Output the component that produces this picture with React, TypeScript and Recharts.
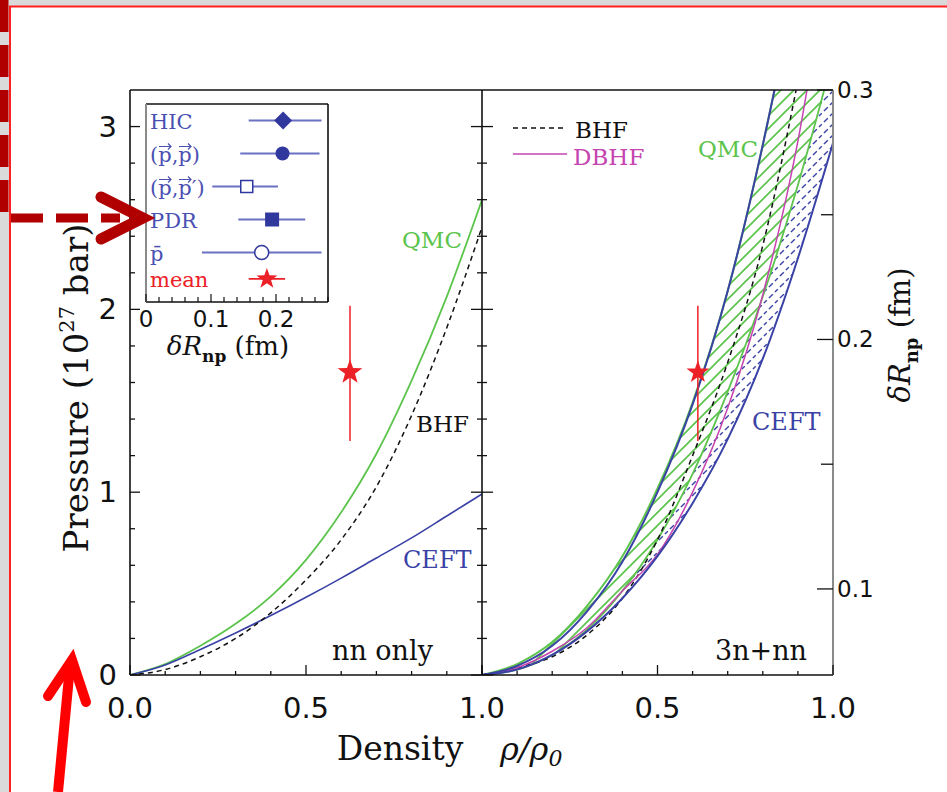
import React from "react";
import {
  Area,
  ComposedChart,
  ErrorBar,
  Line,
  ReferenceArea,
  Scatter,
  XAxis,
  YAxis
} from "recharts";

const W = 947;
const H = 792;

const SERIF = "'DejaVu Serif', serif";
const SANS = "'DejaVu Sans', sans-serif";
const BLUE = "#3a42a6";
const GREEN = "#5cc44c";
const MAGENTA = "#c544b0";
const RED = "#ec2027";
const PROBE_LINE = "#6a71c2";
const PROBE_MARK = "#30389e";
const PROBE_TEXT = "#4a50b2";

// density rho/rho0 sampling
const density = [0, 0.1, 0.2, 0.3, 0.4, 0.5, 0.6, 0.7, 0.8, 0.9, 1.0];
const densityTicks = [0, 0.1, 0.2, 0.3, 0.4, 0.5, 0.6, 0.7, 0.8, 0.9, 1.0];
const pressureTicks = [0, 0.2, 0.4, 0.6, 0.8, 1, 1.2, 1.4, 1.6, 1.8, 2, 2.2, 2.4, 2.6, 2.8, 3];
const dRTicks = [0.1, 0.15, 0.2, 0.25, 0.3];

// left panel: nn only (pressure, 10^27 bar)
const nnQmc = [0, 0.06, 0.16, 0.28, 0.43, 0.63, 0.89, 1.21, 1.61, 2.07, 2.6];
const nnBhf = [0, 0.03, 0.1, 0.2, 0.34, 0.52, 0.74, 1.03, 1.42, 1.9, 2.45];
const nnCeft = [0, 0.055, 0.14, 0.23, 0.325, 0.425, 0.53, 0.64, 0.75, 0.87, 0.99];

// right panel: 3n+nn
const ceftUpper = [0, 0.05, 0.16, 0.35, 0.62, 1.0, 1.48, 2.1, 2.9, 3.85, 4.95];
const ceftLower = [0, 0.03, 0.11, 0.24, 0.42, 0.65, 0.94, 1.29, 1.73, 2.28, 2.91];
const qmcUpper = [0, 0.06, 0.18, 0.38, 0.65, 1.02, 1.49, 2.1, 2.9, 3.85, 4.95];
const qmcLower = [0, 0.03, 0.11, 0.25, 0.46, 0.74, 1.1, 1.55, 2.07, 2.68, 3.38];
const bhf3n = [0, 0.04, 0.1, 0.22, 0.42, 0.74, 1.2, 1.71, 2.35, 3.25, 4.3];
const dbhf3n = [0, 0.04, 0.13, 0.26, 0.46, 0.66, 1.0, 1.46, 2.08, 2.92, 4.1];

// mean constraint (star with error bar)
const meanDensity = [0.625, 0.615];
const meanPressure = 1.656;
const meanLow = 1.28;
const meanHigh = 2.02;

// inset: delta R_np (fm); vector arrows over p are drawn separately
const insetNames = ["HIC", "(p,p)", "(p,p\u2032)", "PDR", "p\u0304", "mean"];
const insetArrows = [false, true, true, false, false, false];
const insetRow = [0.5, 1.5, 2.5, 3.5, 4.5, 5.3];
const insetValue = [0.211, 0.21, 0.155, 0.194, 0.178, 0.186];
const insetLow = [0.158, 0.145, 0.102, 0.142, 0.086, 0.158];
const insetHigh = [0.27, 0.267, 0.203, 0.245, 0.27, 0.214];
const insetTicks = [0, 0.02, 0.04, 0.06, 0.08, 0.1, 0.12, 0.14, 0.16, 0.18, 0.2, 0.22, 0.24, 0.26, 0.28];

const nnData = density.map((x, i) => ({ x, qmc: nnQmc[i], bhf: nnBhf[i], ceft: nnCeft[i] }));
const fullData = density.map((x, i) => ({
  x,
  ceftBand: [ceftLower[i], ceftUpper[i]],
  qmcBand: [qmcLower[i], qmcUpper[i]],
  ceftUp: ceftUpper[i],
  ceftLo: ceftLower[i],
  qmcUp: qmcUpper[i],
  qmcLo: qmcLower[i],
  bhf: bhf3n[i],
  dbhf: dbhf3n[i]
}));
const meanErr = [meanPressure - meanLow, meanHigh - meanPressure];
const meanLeft = [{ x: meanDensity[0], p: meanPressure, err: meanErr }];
const meanRight = [{ x: meanDensity[1], p: meanPressure, err: meanErr }];
const probes = insetNames.map((name, i) => ({
  i,
  name,
  dr: insetValue[i],
  row: insetRow[i],
  xerr: [insetValue[i] - insetLow[i], insetHigh[i] - insetValue[i]]
}));
const probeData = probes.slice(0, 5);
const meanProbe = probes.slice(5);

const near = (a: number, b: number) => Math.abs(a - b) < 1e-6;
const isMult = (v: number, step: number) => Math.abs(v / step - Math.round(v / step)) < 1e-6;

function starPath(cx: number, cy: number, R: number) {
  let d = "";
  for (let k = 0; k < 10; k++) {
    const r = k % 2 === 0 ? R : R * 0.4;
    const a = -Math.PI / 2 + (k * Math.PI) / 5;
    d += (k ? "L" : "M") + (cx + r * Math.cos(a)).toFixed(2) + "," + (cy + r * Math.sin(a)).toFixed(2);
  }
  return d + "Z";
}

function densityTick(labels: number[]) {
  return (props: any) => {
    const { x, y, payload } = props;
    const v = payload.value;
    const major = isMult(v, 0.5);
    const show = labels.some((l) => near(l, v));
    return (
      <g>
        <line x1={x} x2={x} y1={y} y2={y - (major ? 10 : 4)} stroke="#111" strokeWidth={1.3} />
        {show && (
          <text x={x} y={y + 43} textAnchor="middle" fontFamily={SANS} fontSize={29} fill="#111">
            {v.toFixed(1)}
          </text>
        )}
      </g>
    );
  };
}

const pressureTick = (props: any) => {
  const { x, y, payload } = props;
  const v = payload.value;
  const major = isMult(v, 1);
  return (
    <g>
      <line x1={x} x2={x + (major ? 10 : 5)} y1={y} y2={y} stroke="#111" strokeWidth={1.3} />
      {major && (
        <text x={x - 13} y={y + 10} textAnchor="end" fontFamily={SANS} fontSize={29} fill="#111">
          {v}
        </text>
      )}
    </g>
  );
};

const innerTick = (props: any) => {
  const { x, y, payload } = props;
  const len = isMult(payload.value, 1) ? 11 : 5;
  return <line x1={x - len} x2={x + len} y1={y} y2={y} stroke="#111" strokeWidth={1.3} />;
};

const dRTick = (props: any) => {
  const { x, y, payload } = props;
  const v = payload.value;
  const major = isMult(v, 0.1);
  return (
    <g>
      <line x1={x - (major ? 16 : 12)} x2={x} y1={y} y2={y} stroke="#111" strokeWidth={1.3} />
      {major && (
        <text x={x + 4} y={y + 8} fontFamily={SANS} fontSize={23} fill="#111">
          {v.toFixed(1)}
        </text>
      )}
    </g>
  );
};

const insetBottomTick = (props: any) => {
  const { x, y, payload } = props;
  const v = payload.value;
  const major = isMult(v, 0.1);
  return (
    <g>
      <line x1={x} x2={x} y1={y} y2={y - (major ? 8 : 5)} stroke="#111" strokeWidth={1.2} />
      {major && (
        <text x={x} y={y + 25} textAnchor="middle" fontFamily={SANS} fontSize={23} fill="#111">
          {near(v, 0) ? "0" : v.toFixed(1)}
        </text>
      )}
    </g>
  );
};

const insetTopTick = (props: any) => {
  const { x, y, payload } = props;
  const major = isMult(payload.value, 0.1);
  return <line x1={x} x2={x} y1={y} y2={y + (major ? 8 : 5)} stroke="#111" strokeWidth={1.2} />;
};

const vecArrow = (cx: number, ay: number) =>
  `M${cx - 6},${ay}H${cx + 6}M${cx + 3},${ay - 3}L${cx + 6},${ay}L${cx + 3},${ay + 3}`;

const insetNameTick = (props: any) => {
  const { x, y, payload } = props;
  const i = insetRow.findIndex((r) => near(r, payload.value));
  const color = i === 5 ? RED : PROBE_TEXT;
  return (
    <g>
      <text x={x + 4} y={y + 8} fontFamily={SERIF} fontSize={21} fill={color}>
        {insetNames[i]}
      </text>
      {insetArrows[i] && (
        <path d={vecArrow(x + 19, y - 7) + vecArrow(x + 39, y - 7)} stroke={color} strokeWidth={1.2} fill="none" />
      )}
    </g>
  );
};

const probeShape = (props: any) => {
  const { cx, cy, payload } = props;
  switch (payload.i) {
    case 0:
      return <path d={`M${cx},${cy - 9}L${cx + 9},${cy}L${cx},${cy + 9}L${cx - 9},${cy}Z`} fill={PROBE_MARK} />;
    case 1:
      return <circle cx={cx} cy={cy} r={7} fill={PROBE_MARK} />;
    case 2:
      return <rect x={cx - 6} y={cy - 6} width={12} height={12} fill="#fff" stroke={PROBE_MARK} strokeWidth={1.5} />;
    case 3:
      return <rect x={cx - 7} y={cy - 7} width={14} height={14} fill={PROBE_MARK} />;
    default:
      return <circle cx={cx} cy={cy} r={7} fill="#fff" stroke={PROBE_MARK} strokeWidth={1.5} />;
  }
};

const frame = { stroke: "#111", strokeWidth: 1.6 };
const grayFrame = { stroke: "#8a8a8a", strokeWidth: 2 };
const abs: React.CSSProperties = { position: "absolute", left: 0, top: 0 };

// axes are given 1px of room (zero-size axes are not drawn), margins take the rest
function LeftPanel() {
  return (
    <div style={abs}>
      <ComposedChart width={W} height={H} data={nnData} margin={{ top: 89, left: 129, right: W - 482, bottom: H - 676 }}>
        <XAxis dataKey="x" type="number" domain={[0, 1]} ticks={densityTicks} interval={0} height={1}
          tickSize={0} tickMargin={0} tickLine={false} tick={densityTick([0, 0.5, 1])} axisLine={frame} allowDataOverflow />
        <XAxis xAxisId="top" orientation="top" type="number" domain={[0, 1]} height={1} tick={false} tickLine={false} axisLine={frame} />
        <YAxis type="number" domain={[0, 3.2]} ticks={pressureTicks} interval={0} width={1}
          tickSize={0} tickMargin={0} tickLine={false} tick={pressureTick} axisLine={frame} allowDataOverflow />
        <Line dataKey="qmc" type="monotone" stroke={GREEN} strokeWidth={1.8} dot={false} isAnimationActive={false} />
        <Line dataKey="ceft" type="monotone" stroke={BLUE} strokeWidth={1.6} dot={false} isAnimationActive={false} />
        <Line dataKey="bhf" type="monotone" stroke="#111" strokeWidth={1.5} strokeDasharray="5 4" dot={false} isAnimationActive={false} />
        <Scatter data={meanLeft} dataKey="p" isAnimationActive={false}
          shape={(p: any) => <path d={starPath(p.cx, p.cy, 13)} fill={RED} />}>
          <ErrorBar dataKey="err" direction="y" width={0} stroke={RED} strokeWidth={1.5} />
        </Scatter>
      </ComposedChart>
    </div>
  );
}

function RightPanel() {
  return (
    <div style={abs}>
      <ComposedChart width={W} height={H} data={fullData} margin={{ top: 89, left: 481, right: W - 834, bottom: H - 676 }}>
        <defs>
          <pattern id="qmcHatch" patternUnits="userSpaceOnUse" width={13} height={13}>
            <rect width={13} height={13} fill="#fff" />
            <path d="M-3,3 L3,-3 M0,13 L13,0 M10,16 L16,10" stroke={GREEN} strokeWidth={1.7} />
          </pattern>
          <pattern id="ceftHatch" patternUnits="userSpaceOnUse" width={11} height={11}>
            <rect width={11} height={11} fill="#fff" />
            <path d="M-2,2 L2,-2 M0,11 L11,0 M9,13 L13,9" stroke={BLUE} strokeWidth={1.4} strokeDasharray="4 3" />
          </pattern>
        </defs>
        <XAxis dataKey="x" type="number" domain={[0, 1]} ticks={densityTicks} interval={0} height={1}
          tickSize={0} tickMargin={0} tickLine={false} tick={densityTick([0.5, 1])} axisLine={frame} allowDataOverflow />
        <XAxis xAxisId="top" orientation="top" type="number" domain={[0, 1]} height={1} tick={false} tickLine={false} axisLine={frame} />
        <YAxis type="number" domain={[0, 3.2]} ticks={pressureTicks} interval={0} width={1}
          tickSize={0} tickMargin={0} tickLine={false} tick={innerTick} axisLine={frame} allowDataOverflow />
        <YAxis yAxisId="dr" orientation="right" type="number" domain={[0.0655, 0.3]} ticks={dRTicks} interval={0} width={1}
          tickSize={0} tickMargin={0} tickLine={false} tick={dRTick} axisLine={grayFrame} allowDataOverflow />
        <Area dataKey="ceftBand" type="monotone" stroke="none" fill="url(#ceftHatch)" fillOpacity={1} isAnimationActive={false} />
        <Area dataKey="qmcBand" type="monotone" stroke="none" fill="url(#qmcHatch)" fillOpacity={1} isAnimationActive={false} />
        <Line dataKey="qmcUp" type="monotone" stroke={GREEN} strokeWidth={2} dot={false} isAnimationActive={false} />
        <Line dataKey="qmcLo" type="monotone" stroke={GREEN} strokeWidth={1.8} dot={false} isAnimationActive={false} />
        <Line dataKey="bhf" type="monotone" stroke="#111" strokeWidth={1.5} strokeDasharray="5 4" dot={false} isAnimationActive={false} />
        <Line dataKey="dbhf" type="monotone" stroke={MAGENTA} strokeWidth={1.5} dot={false} isAnimationActive={false} />
        <Line dataKey="ceftUp" type="monotone" stroke={BLUE} strokeWidth={2} dot={false} isAnimationActive={false} />
        <Line dataKey="ceftLo" type="monotone" stroke={BLUE} strokeWidth={2} dot={false} isAnimationActive={false} />
        <Scatter data={meanRight} dataKey="p" isAnimationActive={false}
          shape={(p: any) => <path d={starPath(p.cx, p.cy, 12)} fill={RED} />}>
          <ErrorBar dataKey="err" direction="y" width={0} stroke={RED} strokeWidth={1.5} />
        </Scatter>
      </ComposedChart>
    </div>
  );
}

function Inset() {
  return (
    <div style={abs}>
      <ComposedChart width={W} height={H} margin={{ top: 103, left: 145, right: W - 329, bottom: H - 303 }}>
        <XAxis dataKey="dr" type="number" domain={[0, 0.28]} ticks={insetTicks} interval={0} height={1}
          tickSize={0} tickMargin={0} tickLine={false} tick={insetBottomTick} axisLine={frame} allowDataOverflow />
        <XAxis xAxisId="top" orientation="top" type="number" domain={[0, 0.28]} ticks={insetTicks} interval={0} height={1}
          tickSize={0} tickMargin={0} tickLine={false} tick={insetTopTick} axisLine={frame} />
        <YAxis dataKey="row" type="number" domain={[0, 6]} reversed ticks={insetRow} interval={0} width={1}
          tickSize={0} tickMargin={0} tickLine={false} tick={insetNameTick} axisLine={grayFrame} allowDataOverflow />
        <YAxis yAxisId="r" orientation="right" type="number" domain={[0, 6]} width={1} tick={false} tickLine={false} axisLine={frame} />
        <ReferenceArea x1={0} x2={0.28} y1={0} y2={6} fill="#fff" fillOpacity={1} stroke="none" ifOverflow="visible" />
        <Scatter data={probeData} isAnimationActive={false} shape={probeShape}>
          <ErrorBar dataKey="xerr" direction="x" width={0} stroke={PROBE_LINE} strokeWidth={1.8} />
        </Scatter>
        <Scatter data={meanProbe} isAnimationActive={false}
          shape={(p: any) => <path d={starPath(p.cx, p.cy, 11)} fill={RED} />}>
          <ErrorBar dataKey="xerr" direction="x" width={0} stroke={RED} strokeWidth={1.8} />
        </Scatter>
      </ComposedChart>
    </div>
  );
}

function Overlay() {
  return (
    <svg width={W} height={H} style={{ ...abs, pointerEvents: "none" }}>
      <rect x={0} y={0} width={W} height={6} fill="#dadada" />
      <rect x={0} y={0} width={9} height={H} fill="#dadada" />
      <line x1={9} y1={6.5} x2={W} y2={6.5} stroke="#ff2020" strokeWidth={2} />
      <line x1={10} y1={6} x2={10} y2={H} stroke="#ff2020" strokeWidth={2} />
      <path d="M4,0 V218 H120" stroke="#b00000" strokeWidth={9} fill="none" strokeDasharray="32 13" />
      <path d="M101,197 L143,218 L101,239" stroke="#b00000" strokeWidth={11} fill="none" strokeLinecap="round" />
      <line x1={58} y1={H} x2={70} y2={666} stroke="#ff0000" strokeWidth={10} />
      <path d="M48,696 L72,660 L86,702" stroke="#ff0000" strokeWidth={10} fill="none" strokeLinecap="round" />

      <g fontFamily={SERIF}>
        <text x={402} y={248} fontSize={23} fill={GREEN}>QMC</text>
        <text x={416} y={432} fontSize={23} fill="#111">BHF</text>
        <text x={403} y={568} fontSize={24} fill={BLUE}>CEFT</text>
        <text x={332} y={660} fontSize={27} fill="#111">nn only</text>

        <line x1={513} x2={567} y1={128} y2={128} stroke="#111" strokeWidth={1.5} strokeDasharray="5 4" />
        <text x={575} y={138} fontSize={23} fill="#111">BHF</text>
        <line x1={513} x2={567} y1={154} y2={154} stroke={MAGENTA} strokeWidth={1.5} />
        <text x={573} y={165} fontSize={23} fill={MAGENTA}>DBHF</text>
        <text x={698} y={157} fontSize={23} fill={GREEN}>QMC</text>
        <text x={752} y={430} fontSize={24} fill={BLUE}>CEFT</text>
        <text x={715} y={660} fontSize={27} fill="#111">3n+nn</text>

        <text transform="translate(88,388) rotate(-90)" textAnchor="middle" fontSize={34} fill="#111">
          Pressure (10<tspan dy={-14} fontSize={21}>27</tspan><tspan dy={14}> bar)</tspan>
        </text>
        <text transform="translate(910,335) rotate(-90)" textAnchor="middle" fontSize={29} fill="#111">
          <tspan fontStyle="italic">{"\u03B4R"}</tspan><tspan dy={8} fontSize={18} fontWeight="bold">np</tspan>
          <tspan dy={-8}>{" (fm)"}</tspan>
        </text>
        <text x={228} y={355} textAnchor="middle" fontSize={26} fill="#111">
          <tspan fontStyle="italic">{"\u03B4R"}</tspan><tspan dy={7} fontSize={17} fontWeight="bold">np</tspan>
          <tspan dy={-7}>{" (fm)"}</tspan>
        </text>
        <text x={400} y={760} textAnchor="middle" fontSize={33} fill="#111">Density</text>
        <text x={500} y={760} fontSize={32} fontStyle="italic" fill="#111">
          {"\u03C1/\u03C1"}<tspan dy={6} fontSize={22}>0</tspan>
        </text>
      </g>
    </svg>
  );
}

export default function App() {
  return (
    <div style={{ ...abs, width: W, height: H, background: "#fff", overflow: "hidden" }}>
      <LeftPanel />
      <RightPanel />
      <Inset />
      <Overlay />
    </div>
  );
}
